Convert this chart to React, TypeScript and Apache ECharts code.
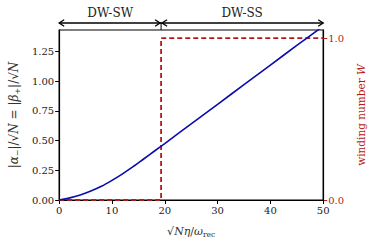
import React, { useEffect, useRef } from "react";
import * as echarts from "echarts";

const xVals = [0, 2, 4, 6, 8, 10, 12, 14, 16, 18, 20, 25, 30, 35, 40, 45, 50];
const ampVals = [0, 0.018, 0.043, 0.075, 0.115, 0.165, 0.22, 0.28, 0.345, 0.41, 0.475, 0.64, 0.805, 0.97, 1.135, 1.3, 1.462];
const windX = [0, 19.3, 19.3, 50];
const windY = [0, 0, 1, 1];
const transitionX = 19.3;
const regionLabels = ["DW-SW", "DW-SS"];

const FONT = "DejaVu Serif";
const RED = "#b51a1a";
const BLUE = "#0b0bae";

export default function App() {
  const ref = useRef<HTMLDivElement>(null);
  useEffect(() => {
    if (!ref.current) return;
    const chart = echarts.init(ref.current, null, { renderer: "svg" });
    const option: any = {
      animation: false,
      textStyle: { fontFamily: FONT },
      grid: {
        left: 56, right: 48, top: 30, bottom: 46,
        show: true, borderColor: "#000", borderWidth: 1.2, backgroundColor: "transparent",
      },
      xAxis: {
        type: "value", min: 0, max: 50, interval: 10,
        axisLine: { show: true, lineStyle: { color: "#000", width: 1.2 } },
        axisTick: { show: true, inside: false, length: 4, lineStyle: { color: "#000" } },
        axisLabel: { color: "#222", fontSize: 10, fontFamily: FONT, margin: 5 },
        splitLine: { show: false },
        name: "√{i|N}{i|η}/{i|ω}{s|rec}",
        nameLocation: "middle", nameGap: 24,
        nameTextStyle: {
          color: "#333", fontSize: 11, fontFamily: FONT,
          rich: {
            i: { fontStyle: "italic", fontSize: 11, fontFamily: FONT, color: "#333" },
            s: { fontSize: 7.5, fontFamily: FONT, color: "#333", padding: [6, 0, 0, 0] },
          },
        },
      },
      yAxis: [
        {
          type: "value", min: 0, max: 1.43, interval: 0.25,
          axisLine: { show: true, lineStyle: { color: "#000", width: 1.2 } },
          axisTick: { show: true, length: 4, lineStyle: { color: "#000" } },
          axisLabel: {
            color: "#222", fontSize: 10, fontFamily: FONT, margin: 5, showMaxLabel: false,
            formatter: (v: number) => v.toFixed(2),
          },
          splitLine: { show: false },
          name: "|{i|α}{s|−}|/√{i|N} = |{i|β}{s|+}|/√{i|N}",
          nameLocation: "middle", nameGap: 35, nameRotate: 90,
          nameTextStyle: {
            color: "#333", fontSize: 12, fontFamily: FONT,
            rich: {
              i: { fontStyle: "italic", fontSize: 12, fontFamily: FONT, color: "#333" },
              s: { fontSize: 8, fontFamily: FONT, color: "#333", padding: [6, 0, 0, 0] },
            },
          },
        },
        {
          type: "value", min: 0, max: 1.05, interval: 1, position: "right",
          axisLine: { show: true, lineStyle: { color: "#000", width: 1.2 } },
          axisTick: { show: true, length: 4, lineStyle: { color: RED } },
          axisLabel: {
            color: RED, fontSize: 10, fontFamily: FONT, margin: 5, showMaxLabel: false,
            formatter: (v: number) => v.toFixed(1),
          },
          splitLine: { show: false },
          name: "winding number {i|W}",
          nameLocation: "middle", nameGap: 30, nameRotate: 90,
          nameTextStyle: {
            color: RED, fontSize: 10.5, fontFamily: FONT,
            rich: { i: { fontStyle: "italic", fontSize: 10.5, fontFamily: FONT, color: RED } },
          },
        },
      ],
      series: [
        {
          type: "line", yAxisIndex: 1, showSymbol: false, symbol: "none",
          data: windX.map((x, i) => [x, windY[i]]),
          lineStyle: { color: RED, width: 1.8, type: [5, 3] },
          z: 2,
        },
        {
          type: "line", yAxisIndex: 0, showSymbol: false, symbol: "none", smooth: 0.3,
          data: xVals.map((x, i) => [x, ampVals[i]]),
          lineStyle: { color: BLUE, width: 1.6 },
          clip: true,
          z: 3,
        },
      ],
    };
    chart.setOption(option);

    const x0 = chart.convertToPixel({ xAxisIndex: 0 }, 0) as number;
    const xt = chart.convertToPixel({ xAxisIndex: 0 }, transitionX) as number;
    const x1 = chart.convertToPixel({ xAxisIndex: 0 }, 50) as number;
    const ay = 23;
    const topY = chart.convertToPixel({ yAxisIndex: 0 }, 1.43) as number;
    const head = (x: number, dir: number) => ({
      type: "polyline",
      shape: { points: [[x - dir * 5, ay - 3.2], [x, ay], [x - dir * 5, ay + 3.2]] },
      style: { stroke: "#000", lineWidth: 1.3, fill: null },
    });
    const arrowStyle = { stroke: "#000", lineWidth: 1.3 };
    chart.setOption({
      graphic: [
        { type: "line", shape: { x1: x0, y1: ay, x2: xt, y2: ay }, style: arrowStyle },
        { type: "line", shape: { x1: xt, y1: ay, x2: x1, y2: ay }, style: arrowStyle },
        { type: "line", shape: { x1: xt, y1: ay, x2: xt, y2: topY }, style: { stroke: "#000", lineWidth: 1 } },
        head(x0, -1), head(xt - 1, 1), head(xt + 1, -1), head(x1, 1),
        {
          type: "text", x: (x0 + xt) / 2, y: 13,
          style: { text: regionLabels[0], fontFamily: FONT, fontSize: 12, fill: "#222", align: "center", verticalAlign: "middle" },
        },
        {
          type: "text", x: (xt + x1) / 2, y: 13,
          style: { text: regionLabels[1], fontFamily: FONT, fontSize: 12, fill: "#222", align: "center", verticalAlign: "middle" },
        },
      ],
    });
    return () => chart.dispose();
  }, []);
  return <div ref={ref} style={{ width: 374, height: 246, position: "absolute", left: 0, top: 0 }} />;
}
